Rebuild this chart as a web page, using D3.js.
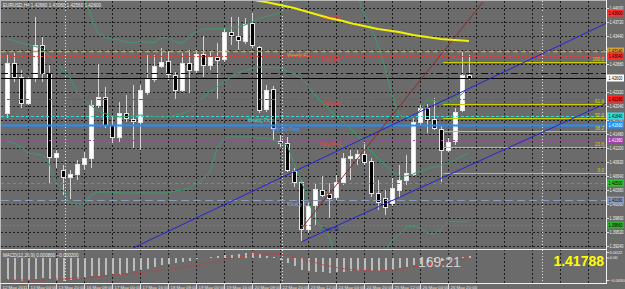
<!DOCTYPE html>
<html lang="en">

<head>
  <meta charset="UTF-8">
  <meta name="viewport" content="width=device-width, initial-scale=1.0">
  <title>EURUSD,H4</title>
  <script src="https://d3js.org/d3.v7.min.js"></script>
  <style type="text/css">
    body {
      margin: 0;
      background-color: #6b6b6b;
      overflow: hidden;
    }

    svg {
      display: block;
      font-family: "Liberation Sans", Arial, sans-serif;
    }

    .axis text {
      fill: #eeeeee;
      font-size: 4.6px;
    }

    .axis line {
      stroke: #dddddd;
    }

    .small {
      font-size: 4.6px;
    }
  </style>
</head>

<body>
  <svg width="625" height="289"></svg>
  <script type="text/javascript">
    // H4 candles, oldest first
    let opens = [1.4190, 1.4290, 1.4262, 1.4210, 1.4260, 1.4326, 1.4270, 1.4102, 1.4076, 1.4062,
      1.4068, 1.4088, 1.4100, 1.4206, 1.4222, 1.4166, 1.4142, 1.4190, 1.4178, 1.4172,
      1.4232, 1.4258, 1.4284, 1.4294, 1.4266, 1.4236, 1.4290, 1.4276, 1.4308, 1.4286,
      1.4302, 1.4298, 1.4352, 1.4344, 1.4334, 1.4370, 1.4322, 1.4198, 1.4238, 1.4134,
      1.4130, 1.4074, 1.4052, 1.3958, 1.4006, 1.4036, 1.4028, 1.4022, 1.4052, 1.4100,
      1.4100, 1.4108, 1.4094, 1.4030, 1.4020, 1.4010, 1.4036, 1.4056, 1.4068, 1.4172,
      1.4200, 1.4178, 1.4158, 1.4116, 1.4134, 1.4196, 1.4266];
    let highs = [1.4306, 1.4310, 1.4276, 1.4262, 1.4382, 1.4342, 1.4286, 1.4116, 1.4086, 1.4076,
      1.4096, 1.4112, 1.4216, 1.4288, 1.4242, 1.4182, 1.4212, 1.4226, 1.4246, 1.4246,
      1.4306, 1.4306, 1.4320, 1.4314, 1.4272, 1.4310, 1.4316, 1.4316, 1.4344, 1.4312,
      1.4330, 1.4360, 1.4382, 1.4382, 1.4380, 1.4390, 1.4324, 1.4246, 1.4244, 1.4146,
      1.4142, 1.4080, 1.4056, 1.4016, 1.4050, 1.4064, 1.4050, 1.4066, 1.4110, 1.4116,
      1.4116, 1.4132, 1.4100, 1.4056, 1.4036, 1.4060, 1.4086, 1.4106, 1.4180, 1.4206,
      1.4208, 1.4220, 1.4166, 1.4140, 1.4200, 1.4312, 1.4306];
    let lows = [1.4180, 1.4252, 1.4200, 1.4206, 1.4252, 1.4252, 1.4050, 1.4080, 1.4026, 1.4018,
      1.4056, 1.4076, 1.4080, 1.4200, 1.4160, 1.4130, 1.4132, 1.4172, 1.4120, 1.4116,
      1.4226, 1.4252, 1.4280, 1.4256, 1.4216, 1.4232, 1.4230, 1.4270, 1.4262, 1.4276,
      1.4216, 1.4292, 1.4326, 1.4316, 1.4328, 1.4320, 1.4190, 1.4192, 1.4136, 1.4122,
      1.4072, 1.4042, 1.3932, 1.3950, 1.3966, 1.4022, 1.3980, 1.4016, 1.4046, 1.4056,
      1.4086, 1.4086, 1.4022, 1.3996, 1.3986, 1.4004, 1.4020, 1.4046, 1.4064, 1.4164,
      1.4150, 1.4156, 1.4052, 1.4112, 1.4126, 1.4192, 1.4256];
    let closes = [1.4290, 1.4262, 1.4210, 1.4258, 1.4326, 1.4270, 1.4102, 1.4110, 1.4062, 1.4068,
      1.4088, 1.4100, 1.4206, 1.4222, 1.4166, 1.4142, 1.4190, 1.4180, 1.4174, 1.4236,
      1.4258, 1.4284, 1.4292, 1.4268, 1.4236, 1.4290, 1.4276, 1.4308, 1.4286, 1.4302,
      1.4296, 1.4352, 1.4346, 1.4336, 1.4368, 1.4326, 1.4196, 1.4236, 1.4160, 1.4130,
      1.4076, 1.4052, 1.3958, 1.4004, 1.4038, 1.4026, 1.4020, 1.4052, 1.4100, 1.4104,
      1.4108, 1.4092, 1.4030, 1.4012, 1.4002, 1.4040, 1.4056, 1.4070, 1.4172, 1.4200,
      1.4178, 1.4160, 1.4116, 1.4132, 1.4192, 1.4266, 1.4260];

    // Bollinger bands (20)
    let bbUpper = [1.4542, 1.4540, 1.4538, 1.4536, 1.4534, 1.4530, 1.4524, 1.4518, 1.4512, 1.4500,
      1.4456, 1.4428, 1.4384, 1.4350, 1.4342, 1.4338, 1.4336, 1.4332, 1.4330, 1.4333,
      1.4332, 1.4331, 1.4341, 1.4340, 1.4333, 1.4330, 1.4341, 1.4352, 1.4358, 1.4358,
      1.4358, 1.4359, 1.4360, 1.4362, 1.4366, 1.4372, 1.4379, 1.4383, 1.4386, 1.4390,
      1.4410, 1.4446, 1.4460, 1.4470, 1.4474, 1.4472, 1.4468, 1.4466, 1.4462, 1.4450,
      1.4424, 1.4390, 1.4360, 1.4326, 1.4280, 1.4226, 1.4188, 1.4178, 1.4182, 1.4196,
      1.4216, 1.4214, 1.4210, 1.4211, 1.4218, 1.4228, 1.4242];
    let bbMiddle = [1.4338, 1.4335, 1.4330, 1.4326, 1.4323, 1.4320, 1.4304, 1.4290, 1.4274, 1.4260,
      1.4232, 1.4218, 1.4205, 1.4194, 1.4189, 1.4185, 1.4182, 1.4183, 1.4184, 1.4186,
      1.4185, 1.4183, 1.4182, 1.4182, 1.4185, 1.4189, 1.4194, 1.4208, 1.4221, 1.4233,
      1.4242, 1.4253, 1.4262, 1.4270, 1.4275, 1.4279, 1.4282, 1.4281, 1.4281, 1.4280,
      1.4274, 1.4268, 1.4260, 1.4246, 1.4226, 1.4212, 1.4198, 1.4184, 1.4172, 1.4160,
      1.4146, 1.4130, 1.4114, 1.4100, 1.4086, 1.4074, 1.4064, 1.4064, 1.4068, 1.4074,
      1.4078, 1.4082, 1.4086, 1.4090, 1.4096, 1.4104, 1.4110];
    let bbLower = [1.4134, 1.4130, 1.4122, 1.4110, 1.4108, 1.4106, 1.4090, 1.4052, 1.4036, 1.4010,
      1.4008, 1.4008, 1.4026, 1.4032, 1.4032, 1.4032, 1.4030, 1.4030, 1.4030, 1.4030,
      1.4030, 1.4030, 1.4030, 1.4030, 1.4034, 1.4036, 1.4040, 1.4048, 1.4058, 1.4072,
      1.4120, 1.4140, 1.4142, 1.4142, 1.4142, 1.4142, 1.4140, 1.4140, 1.4136, 1.4130,
      1.4126, 1.4090, 1.4056, 1.4016, 1.3980, 1.3960, 1.3944, 1.3900, 1.3876, 1.3860,
      1.3852, 1.3852, 1.3864, 1.3884, 1.3912, 1.3936, 1.3946, 1.3962, 1.3964, 1.3960,
      1.3950, 1.3948, 1.3958, 1.3972, 1.3974, 1.3972, 1.3974];

    // slow moving average, visible from bar 34
    let maFrom = 34;
    let maValues = [1.4420, 1.4417, 1.4414, 1.4412, 1.4409, 1.4406, 1.4403, 1.4400, 1.4396, 1.4392,
      1.4388, 1.4384, 1.4380, 1.4377, 1.4374, 1.4370, 1.4367, 1.4364, 1.4361, 1.4358,
      1.4356, 1.4354, 1.4352, 1.4349, 1.4346, 1.4344, 1.4342, 1.4340, 1.4338, 1.4337,
      1.4336, 1.4335, 1.4334];

    // MACD(12,26,9)
    let macdMain = [-0.0088, -0.0088, -0.0092, -0.0088, -0.0084, -0.0080, -0.0084, -0.0088, -0.0092, -0.0088,
      -0.0084, -0.0080, -0.0072, -0.0072, -0.0068, -0.0064, -0.0068, -0.0060, -0.0052, -0.0048,
      -0.0044, -0.0036, -0.0028, -0.0024, -0.0020, -0.0016, -0.0012, -0.0004, 0.0000, 0.0004,
      0.0008, 0.0012, 0.0012, 0.0016, 0.0020, 0.0020, 0.0016, 0.0008, 0.0004, -0.0008,
      -0.0020, -0.0032, -0.0048, -0.0052, -0.0056, -0.0056, -0.0060, -0.0056, -0.0056, -0.0052,
      -0.0052, -0.0048, -0.0052, -0.0052, -0.0048, -0.0048, -0.0040, -0.0036, -0.0028, -0.0024,
      -0.0020, -0.0016, -0.0012, -0.0008, -0.0004, 0.0004, 0.0008];
    let macdSignal = [-0.0088, -0.0090, -0.0090, -0.0090, -0.0090, -0.0090, -0.0088, -0.0086, -0.0086, -0.0084,
      -0.0082, -0.0080, -0.0078, -0.0076, -0.0074, -0.0070, -0.0068, -0.0066, -0.0062, -0.0060,
      -0.0058, -0.0054, -0.0050, -0.0048, -0.0044, -0.0040, -0.0036, -0.0032, -0.0026, -0.0020,
      -0.0014, -0.0008, -0.0002, 0.0002, 0.0006, 0.0010, 0.0012, 0.0014, 0.0014, 0.0012,
      0.0008, 0.0002, -0.0004, -0.0012, -0.0020, -0.0028, -0.0034, -0.0040, -0.0044, -0.0048,
      -0.0050, -0.0052, -0.0054, -0.0054, -0.0052, -0.0050, -0.0046, -0.0042, -0.0038, -0.0034,
      -0.0030, -0.0026, -0.0020, -0.0016, -0.0010, -0.0006, -0.0002];
    let macdTicks = [0.0022, 0, -0.0090];

    // pivot / level lines
    let levelPrices = [1.4390, 1.4314, 1.4304, 1.4270, 1.4218, 1.4184, 1.4166, 1.4136, 1.4050, 1.4016, 1.3966];
    let levelNames = ["Daily R3", "Weekly R1", "Daily R2", "", "Daily R1", "Weekly Pivot",
      "Monthly Pivot", "Daily Pivot", "", "Weekly S1", "Daily S1"];

    // fibonacci retracement
    let fibLevels = [0, 23.6, 38.2, 50, 61.8, 100];
    let fibLow = 1.4070, fibHigh = 1.4292, fibStart = 62.3;

    // trend lines: [bar, price]
    let channelUpper = [[18, 1.3920], [86, 1.4372]];
    let channelLower = [[42, 1.3932], [86, 1.4212]];
    let trendUp = [[42, 1.3958], [68, 1.4412]];

    // period separators (bar positions)
    let separators = [8.3, 39.3, 76.4];

    let priceTicks = [1.4400, 1.4372, 1.4344, 1.4316, 1.4288, 1.4260, 1.4232, 1.4204, 1.4176, 1.4148,
      1.4120, 1.4092, 1.4064, 1.4036, 1.4008, 1.3980, 1.3952, 1.3924];
    let timeLabels = ["12 May 2011", "13 May 04:00", "13 May 20:00", "16 May 08:00", "17 May 00:00",
      "17 May 16:00", "18 May 08:00", "19 May 00:00", "19 May 16:00", "20 May 08:00", "22 May 20:00",
      "23 May 12:00", "24 May 04:00", "24 May 20:00", "25 May 12:00", "26 May 04:00", "26 May 20:00"];

    let symbol = "EURUSD,H4";
    let timerText = "169:21";
    let bidText = "1.41788";

    // ---- drawing ----
    let svg = d3.select("svg");
    let fmt5 = d3.format(".5f");

    let x = d3.scaleLinear().domain([0, 85]).range([7, 602]);
    let y = d3.scaleLinear().domain([1.3918, 1.4412]).range([249, 2]);
    let ym = d3.scaleLinear().domain([-0.0102, 0.0026]).range([283, 251]);

    let candles = opens.map((o, i) => ({ i: i, o: o, h: highs[i], l: lows[i], c: closes[i] }));
    let last = candles[candles.length - 1];

    let defs = svg.append("defs");
    defs.append("clipPath").attr("id", "clip-main")
      .append("rect").attr("x", 1).attr("y", 1).attr("width", 605).attr("height", 248);
    defs.append("clipPath").attr("id", "clip-macd")
      .append("rect").attr("x", 1).attr("y", 250).attr("width", 605).attr("height", 33);

    svg.append("rect").attr("width", 625).attr("height", 289).attr("fill", "#6b6b6b");

    // grid
    let grid = svg.append("g")
      .attr("stroke", "#1e1e1e")
      .attr("stroke-dasharray", "2,2")
      .attr("shape-rendering", "crispEdges");
    grid.selectAll(".hgrid").data(priceTicks).enter().append("line")
      .attr("x1", 1).attr("x2", 606)
      .attr("y1", d => Math.round(y(d)) + 0.5)
      .attr("y2", d => Math.round(y(d)) + 0.5);
    grid.selectAll(".vgrid").data(d3.range(1, 22)).enter().append("line")
      .attr("x1", k => x(4 * k - 1) + 0.5)
      .attr("x2", k => x(4 * k - 1) + 0.5)
      .attr("y1", 1).attr("y2", 283);

    // period separators
    svg.append("g").selectAll("line").data(separators).enter().append("line")
      .attr("x1", d => Math.round(x(d)) + 0.5).attr("x2", d => Math.round(x(d)) + 0.5)
      .attr("y1", 1).attr("y2", 283)
      .attr("stroke", "#e6e6e6")
      .attr("stroke-dasharray", "1,2");

    let main = svg.append("g").attr("clip-path", "url(#clip-main)");

    // candles
    let cg = main.append("g").attr("shape-rendering", "crispEdges");
    cg.selectAll(".wick").data(candles).enter().append("line")
      .attr("x1", d => x(d.i) + 0.5).attr("x2", d => x(d.i) + 0.5)
      .attr("y1", d => y(d.h)).attr("y2", d => y(d.l))
      .attr("stroke", "#d4d4d4");
    cg.selectAll(".body").data(candles).enter().append("rect")
      .attr("x", d => x(d.i) - 1.5)
      .attr("width", 4)
      .attr("y", d => Math.round(y(Math.max(d.o, d.c))) + 0.5)
      .attr("height", d => Math.max(1, Math.round(Math.abs(y(d.o) - y(d.c)))))
      .attr("fill", d => d.c >= d.o ? "#ffffff" : "#000000")
      .attr("stroke", "#e4e4e4");

    // level lines
    let levelStyle = [
      { color: "#ff2e2e", dash: "2,2", width: 1, tx: 322, text: "#ff3030", box: true },
      { color: "#d4a038", dash: "5,3", width: 1.3, tx: 287, text: "#e6a63c", box: true },
      { color: "#ff2e2e", dash: "2,2", width: 1, tx: 322, text: "#ff3030", box: true },
      { color: "#111111", dash: "7,3,2,3", width: 1, tx: 0, text: "", box: false },
      { color: "#ff2020", dash: "4,2", width: 1, tx: 322, text: "#ff3030", box: true },
      { color: "#30e0e0", dash: "3,2", width: 1, tx: 248, text: "#40e8e8", box: true },
      { color: "#1e90ff", dash: null, width: 2, tx: 272, text: "#3b9cff", box: true },
      { color: "#a040a8", dash: "2,2", width: 1, tx: 319, text: "#ff3030", box: true },
      { color: "#30c030", dash: "3,3", width: 1, tx: 0, text: "", box: true },
      { color: "#8a9cc0", dash: "8,4", width: 1, tx: 287, text: "#9aaac8", box: true },
      { color: "#30b030", dash: "2,2", width: 1, tx: 322, text: "#1a1a8a", box: true }
    ];

    let lv = main.append("g");
    levelPrices.forEach(function (p, k) {
      let s = levelStyle[k];
      let yy = Math.round(y(p)) + 0.5;
      lv.append("line")
        .attr("x1", 1).attr("x2", 606)
        .attr("y1", yy).attr("y2", yy)
        .attr("stroke", s.color)
        .attr("stroke-width", s.width)
        .attr("stroke-dasharray", s.dash);
      if (levelNames[k])
        lv.append("text")
          .attr("class", "small")
          .attr("x", s.tx).attr("y", yy + 5)
          .attr("fill", s.text)
          .text(levelNames[k]);
    });

    // bid line
    lv.append("line")
      .attr("x1", 1).attr("x2", 606)
      .attr("y1", Math.round(y(last.c)) + 0.5).attr("y2", Math.round(y(last.c)) + 0.5)
      .attr("stroke", "#000000");

    // fibonacci
    let fg = main.append("g");
    fibLevels.forEach(function (lvl) {
      let p = fibLow + (fibHigh - fibLow) * lvl / 100;
      let yy = Math.round(y(p)) + 0.5;
      fg.append("line")
        .attr("x1", x(fibStart)).attr("x2", 606)
        .attr("y1", yy).attr("y2", yy)
        .attr("stroke", "#cccc00");
      fg.append("text")
        .attr("class", "small")
        .attr("x", 604).attr("y", yy - 1.5)
        .attr("text-anchor", "end")
        .attr("fill", "#d8d800")
        .text(lvl.toFixed(1));
    });

    // bollinger bands
    let bandLine = d3.line().x((d, i) => x(i)).y(d => y(d));
    [bbUpper, bbMiddle, bbLower].forEach(function (band) {
      main.append("path")
        .attr("d", bandLine(band))
        .attr("fill", "none")
        .attr("stroke", "#3c9c6c")
        .attr("stroke-width", 1);
    });

    // trend lines
    let segLine = d3.line().x(d => x(d[0])).y(d => y(d[1]));
    main.append("path").attr("d", segLine(channelUpper)).attr("stroke", "#2424d8").attr("fill", "none");
    main.append("path").attr("d", segLine(channelLower)).attr("stroke", "#2424d8").attr("fill", "none");
    main.append("path").attr("d", segLine(trendUp)).attr("stroke", "#8a2c2c").attr("fill", "none");

    // moving average
    main.append("path")
      .attr("d", d3.line().x((d, i) => x(maFrom + i)).y(d => y(d))(maValues))
      .attr("fill", "none")
      .attr("stroke", "#f2f200")
      .attr("stroke-width", 2);

    // MACD pane
    let macd = svg.append("g").attr("clip-path", "url(#clip-macd)");
    macd.append("g").attr("shape-rendering", "crispEdges")
      .selectAll("rect").data(macdMain).enter().append("rect")
      .attr("x", (d, i) => x(i) - 0.5)
      .attr("width", 2)
      .attr("y", d => Math.min(ym(d), ym(0)))
      .attr("height", d => Math.max(0.5, Math.abs(ym(d) - ym(0))))
      .attr("fill", "#bcbcbc");
    macd.append("path")
      .attr("d", d3.line().x((d, i) => x(i)).y(d => ym(d))(macdSignal))
      .attr("fill", "none")
      .attr("stroke", "#e82828")
      .attr("stroke-dasharray", "1.5,2");

    // header texts
    svg.append("text").attr("class", "small")
      .attr("x", 3).attr("y", 6.5)
      .attr("fill", "#eeeeee")
      .text(symbol + "  " + [last.o, last.h, last.l, last.c].map(fmt5).join(" "));
    svg.append("text").attr("class", "small")
      .attr("x", 3).attr("y", 256.5)
      .attr("fill", "#eeeeee")
      .text("MACD(12,26,9) " + d3.format(".6f")(macdMain[macdMain.length - 1]) + " " +
        d3.format(".6f")(macdSignal[macdSignal.length - 1]));

    svg.append("text")
      .attr("x", 418).attr("y", 267)
      .attr("fill", "#cfcfcf")
      .style("font-size", "14px")
      .text(timerText);
    svg.append("text")
      .attr("x", 604).attr("y", 266)
      .attr("text-anchor", "end")
      .attr("fill", "#ffff00")
      .style("font-size", "14px")
      .style("font-weight", "bold")
      .text(bidText);

    // frame and pane separators
    let frame = svg.append("g").attr("shape-rendering", "crispEdges");
    frame.append("line").attr("x1", 0).attr("x2", 607).attr("y1", 0.5).attr("y2", 0.5).attr("stroke", "#b8b8b8");
    frame.append("line").attr("x1", 0.5).attr("x2", 0.5).attr("y1", 0).attr("y2", 284).attr("stroke", "#b8b8b8");
    frame.append("line").attr("x1", 0).attr("x2", 607).attr("y1", 249.5).attr("y2", 249.5)
      .attr("stroke", "#f2f2f2").attr("stroke-width", 1.5);
    frame.append("line").attr("x1", 0).attr("x2", 607).attr("y1", 283.5).attr("y2", 283.5).attr("stroke", "#f2f2f2");
    frame.append("line").attr("x1", 606.5).attr("x2", 606.5).attr("y1", 0).attr("y2", 284).attr("stroke", "#f2f2f2");

    // price axis (labels squeezed to fit the narrow strip)
    svg.append("g")
      .attr("class", "axis")
      .attr("transform", "translate(607,0)")
      .call(d3.axisRight(y).tickValues(priceTicks).tickSize(2).tickPadding(0.5).tickFormat(fmt5))
      .call(g => g.select(".domain").remove())
      .call(g => g.selectAll("text").attr("textLength", 14).attr("lengthAdjust", "spacingAndGlyphs"));

    svg.append("g")
      .attr("class", "axis")
      .attr("transform", "translate(607,0)")
      .call(d3.axisRight(ym).tickValues(macdTicks).tickSize(2).tickPadding(0.5)
        .tickFormat(d => d === 0 ? "0.00" : d3.format(".4f")(d)))
      .call(g => g.select(".domain").remove())
      .call(g => g.selectAll("text").style("font-size", "4.2px"));

    // price boxes on the axis
    let boxes = svg.append("g");
    levelPrices.forEach(function (p, k) {
      let s = levelStyle[k];
      if (!s.box) return;
      let yy = Math.round(y(p));
      boxes.append("rect")
        .attr("x", 607).attr("y", yy - 3.5)
        .attr("width", 17).attr("height", 7)
        .attr("fill", s.color);
      boxes.append("text").attr("class", "small")
        .attr("x", 608.5).attr("y", yy + 1.7)
        .attr("textLength", 14).attr("lengthAdjust", "spacingAndGlyphs")
        .attr("fill", (k === 6 || k === 7) ? "#ffffff" : "#000000")
        .text(fmt5(p));
    });
    boxes.append("rect")
      .attr("x", 607).attr("y", Math.round(y(last.c)) - 3.5)
      .attr("width", 17).attr("height", 7)
      .attr("fill", "#ffffff");
    boxes.append("text").attr("class", "small")
      .attr("x", 608.5).attr("y", Math.round(y(last.c)) + 1.7)
      .attr("textLength", 14).attr("lengthAdjust", "spacingAndGlyphs")
      .attr("fill", "#000000")
      .text(fmt5(last.c));

    // time axis
    let tg = svg.append("g");
    tg.selectAll("line").data(timeLabels).enter().append("line")
      .attr("x1", (d, k) => x(4 * k - 1) + 0.5)
      .attr("x2", (d, k) => x(4 * k - 1) + 0.5)
      .attr("y1", 283).attr("y2", 289)
      .attr("stroke", "#d0d0d0");
    tg.selectAll("text").data(timeLabels).enter().append("text")
      .attr("x", (d, k) => x(4 * k - 1) + 2.5)
      .attr("y", 288.5)
      .attr("fill", "#e8e8e8")
      .style("font-size", "4.4px")
      .text(d => d);
  </script>
</body>

</html>
